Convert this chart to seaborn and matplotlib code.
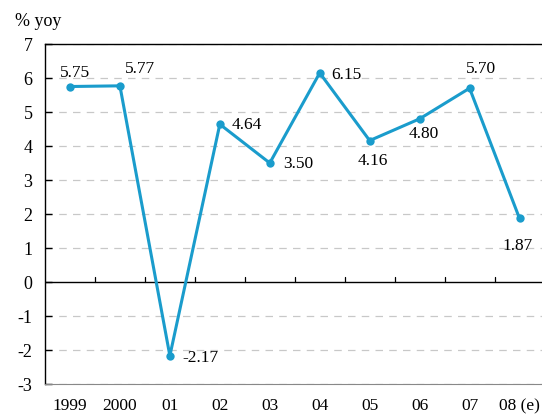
import matplotlib
matplotlib.use("Agg")
import matplotlib.pyplot as plt
import seaborn as sns
import pandas as pd

sns.set_style("white")
plt.rcParams['font.family'] = 'serif'
plt.rcParams['font.serif'] = ['Liberation Serif', 'DejaVu Serif']
plt.rcParams['axes.unicode_minus'] = False
plt.rcParams['text.color'] = 'black'
plt.rcParams['xtick.color'] = 'black'
plt.rcParams['ytick.color'] = 'black'
FONT = "Liberation Serif"

years = ["1999", "2000", "01", "02", "03", "04", "05", "06", "07", "08 (e)"]
growth = [5.75, 5.77, -2.17, 4.64, 3.50, 6.15, 4.16, 4.80, 5.70, 1.87]
# label offsets in pixels (dx, dy) and horizontal alignment
offsets = [(5, 14, 'center'), (20, 17, 'center'), (13, -2, 'left'), (12, -1, 'left'),
           (13, -1, 'left'), (12, -2, 'left'), (3, -20, 'center'), (4, -15, 'center'),
           (11, 19, 'center'), (-2, -28, 'center')]

df = pd.DataFrame({"idx": range(len(years)), "growth": growth})
color = "#1a9ccc"

fig = plt.figure(figsize=(5.42, 4.18), dpi=100)
ax = fig.add_axes([0.083, 0.0813, 0.917, 0.8134])

for v in range(-3, 8):
    if v != 0:
        ax.axhline(v, color="#c8c8c8", lw=0.9, ls=(0, (6, 5)), zorder=0)
ax.axhline(0, color="black", lw=1.0, zorder=1)
for b in range(len(years) - 1):
    ax.plot([b + 0.5, b + 0.5], [0, 0.15], color="black", lw=0.9, zorder=1)

sns.lineplot(data=df, x="idx", y="growth", ax=ax, color=color, lw=2.2,
             marker="o", markersize=6, markeredgewidth=0, zorder=3)

for i, (v, (dx, dy, ha)) in enumerate(zip(growth, offsets)):
    ax.annotate(f"{v:.2f}", (i, v), xytext=(dx, dy), textcoords="offset pixels",
                ha=ha, va="center", fontsize=12.5, family=FONT)

ax.set_xlim(-0.5, 9.45)
ax.set_ylim(-3, 7)
ax.set_yticks(range(-3, 8))
ax.set_yticklabels([str(v) for v in range(-3, 8)], family=FONT, fontsize=13)
ax.set_xticks(range(len(years)))
ax.set_xticklabels(years, family=FONT, fontsize=12.5)
ax.tick_params(axis="x", length=0, pad=10)
ax.tick_params(axis="y", length=5, width=1, direction="in", left=True, pad=9)
ax.set_xlabel("")
ax.set_ylabel("")
for s in ["left", "top"]:
    ax.spines[s].set_color("black")
    ax.spines[s].set_linewidth(1.0)
ax.spines["bottom"].set_color("#888888")
ax.spines["right"].set_visible(False)
fig.text(15 / 542, 1 - 22 / 418, "% yoy", fontsize=13, family=FONT, va="center", ha="left")

fig.savefig("out.png", dpi=100)
